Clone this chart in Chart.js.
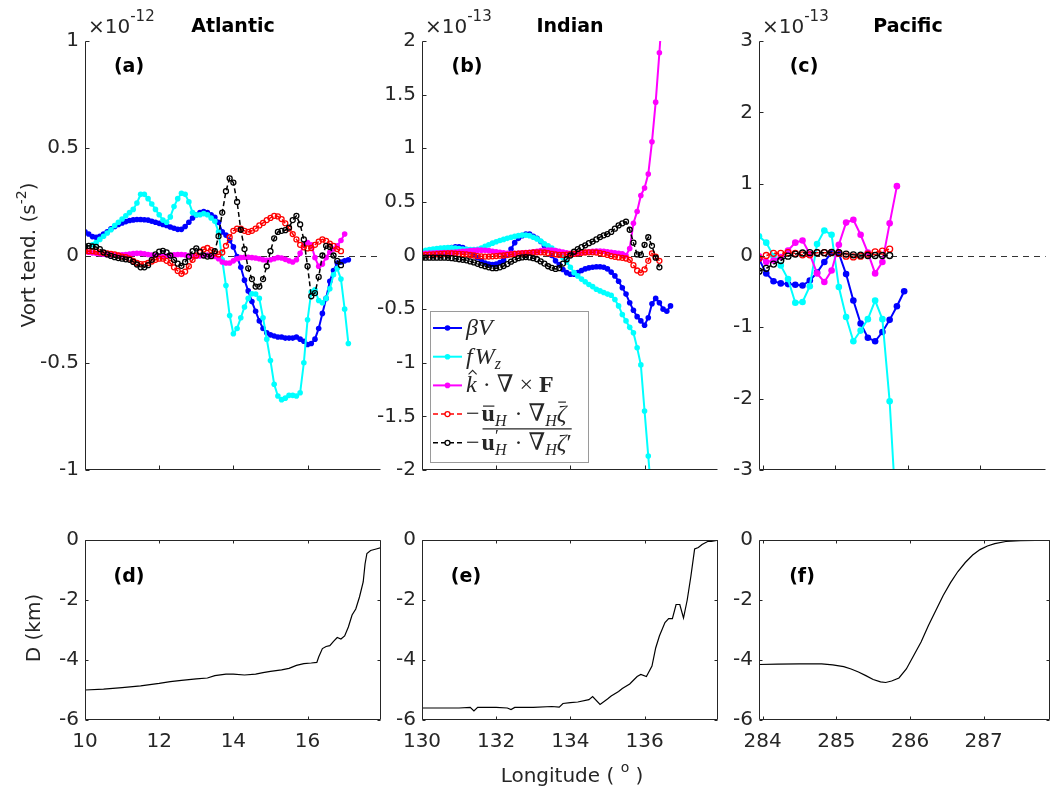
<!DOCTYPE html>
<html>
<head>
<meta charset="utf-8">
<title>Vorticity balance and depth along western boundary sections</title>
<script src="https://cdn.jsdelivr.net/npm/chart.js@4.4.1/dist/chart.umd.min.js"></script>
<style>
html,body{margin:0;padding:0;background:#fff;}
#fig{position:relative;width:1051px;height:790px;overflow:hidden;background:#fff;}
#fig canvas{position:absolute;left:0;top:0;}
</style>
</head>
<body>
<div id="fig">
<canvas id="pa" width="1051" height="790"></canvas>
<canvas id="pb" width="1051" height="790"></canvas>
<canvas id="pc" width="1051" height="790"></canvas>
<canvas id="pd" width="1051" height="790"></canvas>
<canvas id="pe" width="1051" height="790"></canvas>
<canvas id="pf" width="1051" height="790"></canvas>
</div>
<script>
// ---------------- Atlantic section (vorticity terms in 1e-12 s^-2) ----------------
const lonAtl = [10.0,10.1,10.2,10.3,10.4,10.5,10.6,10.7,10.8,10.9,
  11.0,11.1,11.2,11.3,11.4,11.5,11.6,11.7,11.8,11.9,
  12.0,12.1,12.2,12.3,12.4,12.5,12.6,12.7,12.8,12.9,
  13.0,13.1,13.2,13.3,13.4,13.5,13.6,13.7,13.8,13.9,
  14.0,14.1,14.2,14.3,14.4,14.5,14.6,14.7,14.8,14.9,
  15.0,15.1,15.2,15.3,15.4,15.5,15.6,15.7,15.8,15.9,
  16.0,16.1,16.2,16.3,16.4,16.5,16.6,16.7,16.8,16.9,
  17.0,17.1];
const atlBetaV = [0.11,0.10,0.088,0.085,0.09,0.10,0.11,0.125,0.135,0.145,
  0.152,0.158,0.163,0.166,0.168,0.168,0.167,0.165,0.16,0.155,
  0.15,0.145,0.14,0.133,0.127,0.122,0.122,0.135,0.155,0.175,
  0.19,0.2,0.205,0.2,0.19,0.178,0.155,0.11,0.095,0.07,
  0.04,-0.005,-0.055,-0.115,-0.165,-0.215,-0.26,-0.305,-0.34,-0.36,
  -0.37,-0.375,-0.38,-0.38,-0.385,-0.385,-0.385,-0.38,-0.39,-0.40,
  -0.415,-0.41,-0.39,-0.34,-0.27,-0.2,-0.12,-0.07,-0.035,-0.03,
  -0.025,-0.02];
const atlFWz = [null,null,0.05,0.06,0.075,0.09,0.105,0.12,0.14,0.155,
  0.17,0.185,0.2,0.215,0.245,0.285,0.285,0.265,0.24,0.215,
  0.19,0.165,0.155,0.18,0.228,0.265,0.29,0.285,0.25,0.2,
  0.19,0.19,0.195,0.19,0.175,0.16,0.11,-0.02,-0.14,-0.28,
  -0.365,-0.34,-0.29,-0.24,-0.2,-0.178,-0.18,-0.2,-0.29,-0.39,
  -0.49,-0.6,-0.655,-0.672,-0.665,-0.652,-0.652,-0.655,-0.64,-0.5,
  -0.3,-0.17,-0.16,-0.21,-0.22,-0.2,-0.155,-0.09,-0.06,-0.11,
  -0.25,-0.41];
const atlCurlF = [0.018,0.015,0.012,0.01,0.008,0.006,0.004,0.003,0.002,0.002,
  0.003,0.005,0.007,0.009,0.01,0.01,0.008,0.005,0.002,0.0,
  -0.002,-0.003,-0.002,0.0,0.003,0.005,0.005,0.003,0.0,-0.002,
  -0.003,-0.002,0.0,0.002,0.0,-0.005,-0.015,-0.03,-0.035,-0.035,
  -0.025,-0.015,-0.01,-0.008,-0.008,-0.01,-0.012,-0.015,-0.02,-0.022,
  -0.02,-0.015,-0.01,-0.012,-0.018,-0.025,-0.03,-0.02,0.01,0.05,
  0.06,0.05,-0.01,-0.05,-0.04,-0.01,0.015,0.03,0.045,0.07,
  0.1,null];
const atlMeanAdv = [0.02,0.02,0.02,0.018,0.015,0.012,0.01,0.008,0.005,0.0,
  -0.005,-0.008,-0.015,-0.025,-0.035,-0.04,-0.04,-0.035,-0.028,-0.02,
  -0.015,-0.015,-0.025,-0.035,-0.055,-0.072,-0.085,-0.075,-0.05,-0.02,
  0.0,0.015,0.028,0.035,0.025,0.01,0.005,0.014,0.045,0.085,
  0.115,0.125,0.125,0.115,0.11,0.115,0.125,0.14,0.152,0.165,
  0.175,0.185,0.182,0.17,0.15,0.125,0.1,0.075,0.05,0.038,
  0.033,0.035,0.05,0.065,0.075,0.068,0.055,0.045,0.03,0.02,
  null,null];
const atlEddyAdv = [0.042,0.045,0.042,0.04,0.03,0.015,0.005,-0.002,-0.008,-0.012,
  -0.015,-0.018,-0.02,-0.03,-0.042,-0.055,-0.055,-0.045,-0.02,0.005,
  0.018,0.022,0.015,0.0,-0.02,-0.038,-0.048,-0.03,-0.005,0.02,
  0.033,0.018,0.0,-0.005,-0.003,0.02,0.09,0.2,0.3,0.36,
  0.34,0.25,0.12,0.03,-0.06,-0.11,-0.145,-0.145,-0.11,-0.05,
  0.02,0.08,0.11,0.115,0.118,0.13,0.165,0.185,0.145,0.075,
  -0.05,-0.19,-0.175,-0.1,0.0,0.045,0.04,0.0,-0.025,-0.045,
  null,null];

// ---------------- Indian section (1e-13 s^-2) ----------------
const lonInd = [130.0,130.1,130.2,130.3,130.4,130.5,130.6,130.7,130.8,130.9,
  131.0,131.1,131.2,131.3,131.4,131.5,131.6,131.7,131.8,131.9,
  132.0,132.1,132.2,132.3,132.4,132.5,132.6,132.7,132.8,132.9,
  133.0,133.1,133.2,133.3,133.4,133.5,133.6,133.7,133.8,133.9,
  134.0,134.1,134.2,134.3,134.4,134.5,134.6,134.7,134.8,134.9,
  135.0,135.1,135.2,135.3,135.4,135.5,135.6,135.7,135.8,135.9,
  136.0,136.1,136.2,136.3,136.4,136.5,136.6,136.7];
const indBetaV = [0.02,0.03,0.038,0.045,0.05,0.055,0.06,0.068,0.075,0.082,
  0.08,0.075,0.055,0.035,0.01,-0.02,-0.05,-0.07,-0.08,-0.084,
  -0.08,-0.065,-0.045,0.0,0.06,0.12,0.16,0.185,0.2,0.2,
  0.18,0.16,0.13,0.09,0.05,0.0,-0.05,-0.085,-0.13,-0.16,
  -0.175,-0.175,-0.16,-0.14,-0.125,-0.115,-0.11,-0.105,-0.105,-0.11,
  -0.125,-0.155,-0.19,-0.24,-0.3,-0.36,-0.44,-0.51,-0.57,-0.61,
  -0.65,-0.58,-0.45,-0.4,-0.44,-0.5,-0.52,-0.47];
const indFWz = [0.04,0.048,0.055,0.06,0.065,0.07,0.072,0.073,0.072,0.07,
  0.065,0.06,0.057,0.055,0.055,0.058,0.07,0.085,0.1,0.115,
  0.128,0.14,0.15,0.16,0.17,0.178,0.185,0.19,0.19,0.185,
  0.17,0.155,0.135,0.11,0.09,0.07,0.045,0.02,-0.02,-0.06,
  -0.11,-0.16,-0.19,-0.22,-0.245,-0.27,-0.29,-0.315,-0.33,-0.345,
  -0.36,-0.37,-0.41,-0.47,-0.55,-0.61,-0.67,-0.72,-0.86,-1.02,
  -1.45,-1.87,-2.3,null,null,null,null,null];
const indCurlF = [0.02,0.02,0.022,0.024,0.025,0.026,0.027,0.028,0.03,0.032,
  0.035,0.038,0.042,0.045,0.048,0.05,0.05,0.048,0.045,0.04,
  0.035,0.03,0.025,0.02,0.02,0.02,0.022,0.025,0.028,0.03,
  0.035,0.04,0.045,0.048,0.05,0.05,0.045,0.04,0.033,0.025,
  0.02,0.018,0.02,0.025,0.03,0.035,0.04,0.042,0.042,0.04,
  0.035,0.03,0.025,0.02,0.015,0.0,0.065,0.3,0.41,0.56,
  0.63,0.76,1.06,1.43,1.89,2.4,null,null];
const indMeanAdv = [0.0,0.005,0.008,0.01,0.012,0.015,0.018,0.02,0.02,0.018,
  0.015,0.012,0.01,0.005,0.0,-0.005,-0.008,-0.01,-0.01,-0.008,
  -0.005,-0.002,0.0,0.005,0.01,0.015,0.018,0.02,0.022,0.025,
  0.028,0.03,0.03,0.028,0.022,0.015,0.01,0.005,0.005,0.008,
  0.012,0.015,0.02,0.025,0.028,0.03,0.03,0.028,0.022,0.015,
  0.005,-0.005,-0.012,-0.018,-0.022,-0.028,-0.04,-0.09,-0.14,-0.16,
  -0.13,-0.05,0.02,-0.01,-0.05,null,null,null];
const indEddyAdv = [-0.02,-0.02,-0.02,-0.02,-0.02,-0.02,-0.02,-0.022,-0.025,-0.03,
  -0.035,-0.04,-0.045,-0.055,-0.065,-0.078,-0.09,-0.1,-0.11,-0.118,
  -0.118,-0.11,-0.098,-0.08,-0.058,-0.04,-0.025,-0.018,-0.015,-0.018,
  -0.025,-0.035,-0.055,-0.075,-0.1,-0.115,-0.125,-0.118,-0.075,-0.035,
  0.0,0.035,0.06,0.078,0.095,0.115,0.13,0.15,0.172,0.188,
  0.2,0.22,0.25,0.28,0.3,0.315,0.24,0.12,0.01,0.005,
  0.1,0.17,0.09,-0.02,-0.11,null,null,null];

// ---------------- Pacific section (1e-13 s^-2) ----------------
const lonPac = [283.95,284.05,284.15,284.25,284.35,284.45,284.55,284.65,284.75,284.85,
  284.95,285.05,285.15,285.25,285.35,285.45,285.55,285.65,285.75,285.85,285.95];
const pacBetaV = [-0.05,-0.25,-0.36,-0.39,-0.4,-0.41,-0.42,-0.35,-0.24,-0.09,
  0.04,0.03,-0.26,-0.63,-0.95,-1.15,-1.2,-1.07,-0.9,-0.71,-0.5];
const pacFWz = [0.27,0.18,-0.01,-0.14,-0.33,-0.66,-0.65,-0.43,0.16,0.35,
  0.29,-0.44,-0.86,-1.2,-1.05,-0.89,-0.63,-0.89,-2.04,-3.8,null];
const pacCurlF = [-0.01,-0.09,-0.07,-0.02,0.07,0.18,0.21,0.02,-0.25,-0.37,
  -0.21,0.15,0.46,0.5,0.29,0.04,-0.25,-0.09,0.45,0.97,null];
const pacMeanAdv = [-0.04,0.0,0.03,0.03,0.04,0.03,0.01,0.01,0.04,0.04,
  0.04,0.03,-0.01,-0.02,-0.01,0.02,0.05,0.06,0.09,null,null];
const pacEddyAdv = [-0.22,-0.18,-0.12,-0.07,-0.01,0.02,0.035,0.04,0.04,0.04,
  0.045,0.04,0.02,0.01,0.005,0.0,0.0,0.0,0.0,null,null];

// ---------------- Bottom depth (km) ----------------
const depthLonAtl = [10.0,10.5,11.0,11.5,12.0,12.3,12.6,13.0,13.3,13.5,13.8,14.0,14.3,14.6,14.8,15.0,15.3,15.5,15.7,15.9,
  16.1,16.25,16.3,16.4,16.5,16.6,16.7,16.8,16.9,17.0,17.1,17.2,17.3,17.4,17.5,17.55,17.6,17.7,17.85,18.0];
const depthAtl = [-5.0,-4.97,-4.92,-4.86,-4.78,-4.72,-4.68,-4.63,-4.6,-4.52,-4.47,-4.47,-4.5,-4.47,-4.42,-4.38,-4.33,-4.28,-4.18,-4.12,
  -4.1,-4.08,-3.9,-3.62,-3.55,-3.52,-3.38,-3.25,-3.3,-3.2,-2.9,-2.5,-2.3,-1.9,-1.4,-0.8,-0.45,-0.35,-0.3,-0.25];
const depthLonInd = [130.0,130.5,131.0,131.3,131.4,131.5,132.0,132.3,132.4,132.5,133.0,133.5,133.7,133.8,134.0,134.2,134.5,134.6,134.8,135.0,
  135.1,135.3,135.4,135.6,135.8,135.9,136.05,136.2,136.3,136.4,136.55,136.65,136.75,136.85,136.95,137.05,137.15,137.25,137.35,137.45,
  137.55,137.7,137.8,138.0];
const depthInd = [-5.6,-5.6,-5.6,-5.58,-5.7,-5.58,-5.58,-5.6,-5.65,-5.58,-5.58,-5.55,-5.57,-5.45,-5.42,-5.4,-5.32,-5.22,-5.48,-5.3,
  -5.2,-5.05,-4.95,-4.8,-4.55,-4.48,-4.55,-4.2,-3.6,-3.2,-2.75,-2.62,-2.62,-2.15,-2.15,-2.6,-2.0,-1.2,-0.3,-0.25,
  -0.15,-0.05,-0.05,0.0];
const depthLonPac = [283.95,284.2,284.5,284.8,284.95,285.1,285.2,285.3,285.4,285.5,285.6,285.67,285.75,285.85,285.95,286.05,286.15,286.25,286.35,286.45,
  286.55,286.65,286.75,286.85,286.95,287.05,287.15,287.3,287.5,287.7,287.9];
const depthPac = [-4.15,-4.14,-4.13,-4.13,-4.16,-4.22,-4.3,-4.4,-4.52,-4.65,-4.73,-4.75,-4.7,-4.6,-4.3,-3.85,-3.4,-2.85,-2.35,-1.85,
  -1.42,-1.05,-0.75,-0.5,-0.32,-0.2,-0.12,-0.05,-0.02,-0.01,0.0];

// ---------------- Tick values ----------------
const yTicksAtl = [-1,-0.5,0,0.5,1];
const yTicksInd = [-2,-1.5,-1,-0.5,0,0.5,1,1.5,2];
const yTicksPac = [-3,-2,-1,0,1,2,3];
const yTicksDepth = [-6,-4,-2,0];
const xTicksAtl = [10,12,14,16];
const xTicksInd = [130,132,134,136];
const xTicksPac = [284,285,286,287];

// ---------------- Styling helpers ----------------
const INK = '#262626';
const SANS = '"DejaVu Sans", "Liberation Sans", sans-serif';
const SERIF = '"Liberation Serif", "DejaVu Serif", serif';
const COLORS = {beta:'#0000ff', fwz:'#00ffff', curl:'#ff00ff', mean:'#ff0000', eddy:'#000000'};

function pts(lon, vals){
  const out = [];
  for (let i = 0; i < lon.length; i++){
    if (vals[i] !== null && vals[i] !== undefined) out.push({x: lon[i], y: vals[i]});
  }
  return out;
}
function solid(data, color, r, order){
  return {data, borderColor: color, backgroundColor: color, borderWidth: 2,
    pointRadius: r, pointBorderWidth: 0, pointBackgroundColor: color, pointBorderColor: color,
    pointStyle: 'circle', tension: 0, order};
}
function dashed(data, color, r, order){
  return {data, borderColor: color, backgroundColor: color, borderWidth: 1.5, borderDash: [5, 3],
    pointRadius: r, pointBorderWidth: 1.3, pointBackgroundColor: 'rgba(0,0,0,0)', pointBorderColor: color,
    pointStyle: 'circle', tension: 0, order};
}
function terms(lon, s, r){
  return [
    solid(pts(lon, s.beta), COLORS.beta, r, 5),
    solid(pts(lon, s.fwz), COLORS.fwz, r, 4),
    solid(pts(lon, s.curl), COLORS.curl, r, 3),
    dashed(pts(lon, s.mean), COLORS.mean, r - 0.3, 2),
    dashed(pts(lon, s.eddy), COLORS.eddy, r - 0.3, 1)
  ];
}
function depthLine(lon, d){
  return [{data: pts(lon, d), borderColor: '#000', borderWidth: 1.2, pointRadius: 0, tension: 0}];
}

// draw a sequence of text runs (math-like), returns positions
function drawRuns(ctx, x, y, parts){
  const marks = [];
  for (const p of parts){
    ctx.font = p.f;
    const w = ctx.measureText(p.t).width;
    const px = x + (p.dx || 0);
    const py = y + (p.dy || 0);
    ctx.fillText(p.t, px, py);
    marks.push({x0: px, x1: px + w, p});
    if (p.bar){
      ctx.beginPath(); ctx.lineWidth = 1.2;
      ctx.moveTo(px + 1.5, py - p.bar); ctx.lineTo(px + w - 0.5, py - p.bar); ctx.stroke();
    }
    if (p.hat){
      const cx = px + w * 0.62;
      ctx.beginPath(); ctx.lineWidth = 1.1;
      ctx.moveTo(cx - 4, py - 18); ctx.lineTo(cx, py - 22); ctx.lineTo(cx + 4, py - 18); ctx.stroke();
    }
    if (!p.noAdv) x = px + w + (p.sp || 0);
  }
  return {x, marks};
}
function runsWidth(ctx, parts){
  let w = 0;
  for (const p of parts){ ctx.font = p.f; if (!p.noAdv) w += ctx.measureText(p.t).width + (p.dx || 0) + (p.sp || 0); }
  return w;
}
function rotatedRuns(ctx, cx, cy, parts){
  ctx.save();
  ctx.translate(cx, cy); ctx.rotate(-Math.PI / 2);
  const w = runsWidth(ctx, parts);
  drawRuns(ctx, -w / 2, 0, parts);
  ctx.restore();
}

function drawLegend(ctx, a){
  const bx = a.left + 8, by = a.top + 270, bw = 158, bh = 151;
  ctx.save();
  ctx.fillStyle = '#fff'; ctx.fillRect(bx, by, bw, bh);
  ctx.strokeStyle = '#9a9a9a'; ctx.lineWidth = 1; ctx.setLineDash([]);
  ctx.strokeRect(bx + 0.5, by + 0.5, bw, bh);
  const MI = 'italic 24px ' + SERIF, MR = '24px ' + SERIF, MB = 'bold 24px ' + SERIF;
  const SI = 'italic 16px ' + SERIF, SR = '17px ' + SERIF;
  const rows = [
    {c: COLORS.beta, dash: false, parts: [{t:'β', f:MI}, {t:'V', f:MI}]},
    {c: COLORS.fwz, dash: false, parts: [{t:'f', f:MI, sp:2}, {t:'W', f:MI}, {t:'z', f:SI, dy:5}]},
    {c: COLORS.curl, dash: false, parts: [{t:'k', f:MI, hat:true}, {t:' · ∇ × ', f:MR}, {t:'F', f:MB}]},
    {c: COLORS.mean, dash: true, parts: [{t:'−', f:MR, sp:2}, {t:'u', f:MB, bar:15}, {t:'H', f:SI, dy:5, sp:2},
      {t:' · ∇', f:MR}, {t:'H', f:SI, dy:5}, {t:'ζ', f:MI, bar:19}]},
    {c: COLORS.eddy, dash: true, over: true, parts: [{t:'−', f:MR, sp:2}, {t:'u', f:MB}, {t:'′', f:SR, dy:-9, noAdv:true},
      {t:'H', f:SI, dy:5, sp:2}, {t:' · ∇', f:MR}, {t:'H', f:SI, dy:5}, {t:'ζ', f:MI}, {t:'′', f:MR}]}
  ];
  rows.forEach((row, i) => {
    const ry = by + 17 + i * 28.7;
    const x0 = bx + 3, x1 = bx + 32, xm = (x0 + x1) / 2;
    ctx.strokeStyle = row.c; ctx.fillStyle = row.c;
    ctx.lineWidth = row.dash ? 1.5 : 2;
    ctx.setLineDash(row.dash ? [5, 3] : []);
    ctx.beginPath(); ctx.moveTo(x0, ry); ctx.lineTo(x1, ry); ctx.stroke();
    ctx.setLineDash([]);
    ctx.beginPath(); ctx.arc(xm, ry, row.dash ? 2.5 : 2.8, 0, Math.PI * 2);
    if (row.dash){ ctx.lineWidth = 1.3; ctx.fillStyle = '#fff'; ctx.fill(); ctx.stroke(); }
    else ctx.fill();
    ctx.fillStyle = INK; ctx.strokeStyle = INK; ctx.textBaseline = 'alphabetic'; ctx.textAlign = 'left';
    const res = drawRuns(ctx, bx + 36, ry + 7, row.parts);
    if (row.over){
      const u = res.marks[1];
      ctx.beginPath(); ctx.lineWidth = 1.2;
      ctx.moveTo(u.x0 + 1, ry + 7 - 21); ctx.lineTo(res.x, ry + 7 - 21); ctx.stroke();
    }
  });
  ctx.restore();
}

function decor(cfg){
  return {
    id: 'decor',
    beforeDatasetsDraw(chart){
      if (!cfg.zeroLine) return;
      const {ctx, chartArea: a, scales: {y}} = chart;
      const py = Math.round(y.getPixelForValue(0)) + 0.5;
      ctx.save();
      ctx.strokeStyle = '#333'; ctx.lineWidth = 1; ctx.setLineDash([6, 5]);
      ctx.beginPath(); ctx.moveTo(a.left, py); ctx.lineTo(a.right, py); ctx.stroke();
      ctx.restore();
    },
    afterDatasetsDraw(chart){
      const {ctx, chartArea: a, scales: {x, y}} = chart;
      ctx.save();
      ctx.strokeStyle = INK; ctx.lineWidth = 1; ctx.setLineDash([]);
      const L = Math.round(a.left) + 0.5, R = Math.round(a.right) - 0.5;
      const T = Math.round(a.top) + 0.5, B = Math.round(a.bottom) - 0.5;
      const tl = cfg.tickLen;
      ctx.beginPath();
      ctx.moveTo(L, T); ctx.lineTo(L, B); ctx.lineTo(R, B);
      if (cfg.box){ ctx.lineTo(R, T); ctx.lineTo(L, T); }
      for (const v of cfg.yTicks){
        const py = Math.round(y.getPixelForValue(v)) + 0.5;
        ctx.moveTo(L, py); ctx.lineTo(L + tl, py);
        if (cfg.box){ ctx.moveTo(R, py); ctx.lineTo(R - tl, py); }
      }
      for (const v of cfg.xTicks){
        const px = Math.round(x.getPixelForValue(v)) + 0.5;
        ctx.moveTo(px, B); ctx.lineTo(px, B - tl);
        if (cfg.box){ ctx.moveTo(px, T); ctx.lineTo(px, T + tl); }
      }
      ctx.stroke();

      ctx.fillStyle = INK; ctx.strokeStyle = INK; ctx.textBaseline = 'alphabetic';
      if (cfg.title){
        ctx.font = 'bold 19px ' + SANS; ctx.textAlign = 'center';
        ctx.fillStyle = '#000';
        ctx.fillText(cfg.title.text, cfg.title.x, cfg.title.y);
        ctx.fillStyle = INK;
      }
      if (cfg.tag){
        ctx.font = 'bold 19px ' + SANS; ctx.textAlign = 'center'; ctx.fillStyle = '#000';
        ctx.fillText(cfg.tag.text, cfg.tag.x, cfg.tag.y);
        ctx.fillStyle = INK;
      }
      ctx.textAlign = 'left';
      if (cfg.expo){
        drawRuns(ctx, a.left + 3, 33, [{t:'×10', f:'20px ' + SANS}, {t:cfg.expo, f:'15px ' + SANS, dy:-12}]);
      }
      if (cfg.yLabel){
        rotatedRuns(ctx, cfg.yLabel.x, cfg.yLabel.y, cfg.yLabel.parts);
      }
      if (cfg.xLabel){
        const w = runsWidth(ctx, cfg.xLabel.parts);
        drawRuns(ctx, cfg.xLabel.x - w / 2, cfg.xLabel.y, cfg.xLabel.parts);
      }
      if (cfg.legend) drawLegend(ctx, a);
      ctx.restore();
    }
  };
}

function panel(id, cfg){
  const yW = 80;
  const xH = cfg.xLabels ? 30 : 0;
  const a = cfg.area;
  const tickFont = {family: SANS, size: 20};
  return new Chart(document.getElementById(id), {
    type: 'line',
    data: {datasets: cfg.datasets},
    options: {
      responsive: false, animation: false, devicePixelRatio: 1, events: [],
      layout: {padding: {left: a.l - yW, right: 1051 - a.r, top: a.t, bottom: 790 - a.b - xH}},
      plugins: {legend: {display: false}, tooltip: {enabled: false}},
      scales: {
        x: {
          type: 'linear', min: cfg.xMin, max: cfg.xMax,
          grid: {display: false, drawTicks: false}, border: {display: false},
          afterBuildTicks: s => { s.ticks = cfg.xTicks.map(v => ({value: v})); },
          afterFit: s => { s.height = xH; },
          ticks: {display: cfg.xLabels, font: tickFont, color: INK, padding: 10,
            maxRotation: 0, autoSkip: false, callback: v => String(v)}
        },
        y: {
          type: 'linear', min: cfg.yMin, max: cfg.yMax,
          grid: {display: false, drawTicks: false}, border: {display: false},
          afterBuildTicks: s => { s.ticks = cfg.yTicks.map(v => ({value: v})); },
          afterFit: s => { s.width = yW; },
          ticks: {font: tickFont, color: INK, padding: 6, autoSkip: false, callback: v => String(v)}
        }
      }
    },
    plugins: [decor(cfg)]
  });
}

const TOP = {t: 41, b: 470};
const BOT = {t: 540, b: 720};
const COLS = [{l: 85, r: 381}, {l: 422, r: 718}, {l: 759, r: 1050}];

panel('pa', {
  area: {l: COLS[0].l, r: COLS[0].r, t: TOP.t, b: TOP.b},
  xMin: 10, xMax: 17.98, yMin: -1, yMax: 1, xTicks: xTicksAtl, yTicks: yTicksAtl,
  xLabels: false, tickLen: 4, box: false, zeroLine: true,
  datasets: terms(lonAtl, {beta: atlBetaV, fwz: atlFWz, curl: atlCurlF, mean: atlMeanAdv, eddy: atlEddyAdv}, 2.8),
  title: {text: 'Atlantic', x: 233, y: 32}, tag: {text: '(a)', x: 129, y: 72}, expo: '-12',
  yLabel: {x: 35, y: 255, parts: [{t: 'Vort tend. (s', f: '20px ' + SANS}, {t: '-2', f: '14px ' + SANS, dy: -9}, {t: ')', f: '20px ' + SANS}]}
});
panel('pb', {
  area: {l: COLS[1].l, r: COLS[1].r, t: TOP.t, b: TOP.b},
  xMin: 130, xMax: 137.98, yMin: -2, yMax: 2, xTicks: xTicksInd, yTicks: yTicksInd,
  xLabels: false, tickLen: 4, box: false, zeroLine: true,
  datasets: terms(lonInd, {beta: indBetaV, fwz: indFWz, curl: indCurlF, mean: indMeanAdv, eddy: indEddyAdv}, 2.8),
  title: {text: 'Indian', x: 570, y: 32}, tag: {text: '(b)', x: 467, y: 72}, expo: '-13', legend: true
});
panel('pc', {
  area: {l: COLS[2].l, r: COLS[2].r, t: TOP.t, b: TOP.b},
  xMin: 283.95, xMax: 287.9, yMin: -3, yMax: 3, xTicks: xTicksPac, yTicks: yTicksPac,
  xLabels: false, tickLen: 4, box: false, zeroLine: true,
  datasets: terms(lonPac, {beta: pacBetaV, fwz: pacFWz, curl: pacCurlF, mean: pacMeanAdv, eddy: pacEddyAdv}, 3.3),
  title: {text: 'Pacific', x: 908, y: 32}, tag: {text: '(c)', x: 804, y: 72}, expo: '-13'
});
panel('pd', {
  area: {l: COLS[0].l, r: COLS[0].r, t: BOT.t, b: BOT.b},
  xMin: 10, xMax: 17.98, yMin: -6, yMax: 0, xTicks: xTicksAtl, yTicks: yTicksDepth,
  xLabels: true, tickLen: 3, box: true, zeroLine: false,
  datasets: depthLine(depthLonAtl, depthAtl),
  tag: {text: '(d)', x: 129, y: 582},
  yLabel: {x: 40, y: 628, parts: [{t: 'D (km)', f: '20px ' + SANS}]}
});
panel('pe', {
  area: {l: COLS[1].l, r: COLS[1].r, t: BOT.t, b: BOT.b},
  xMin: 130, xMax: 137.98, yMin: -6, yMax: 0, xTicks: xTicksInd, yTicks: yTicksDepth,
  xLabels: true, tickLen: 3, box: true, zeroLine: false,
  datasets: depthLine(depthLonInd, depthInd),
  tag: {text: '(e)', x: 466, y: 582},
  xLabel: {x: 572, y: 782, parts: [{t: 'Longitude ( ', f: '20px ' + SANS}, {t: 'o', f: '14px ' + SANS, dy: -10}, {t: ' )', f: '20px ' + SANS}]}
});
panel('pf', {
  area: {l: COLS[2].l, r: COLS[2].r, t: BOT.t, b: BOT.b},
  xMin: 283.95, xMax: 287.9, yMin: -6, yMax: 0, xTicks: xTicksPac, yTicks: yTicksDepth,
  xLabels: true, tickLen: 3, box: true, zeroLine: false,
  datasets: depthLine(depthLonPac, depthPac),
  tag: {text: '(f)', x: 802, y: 582}
});
</script>
</body>
</html>
